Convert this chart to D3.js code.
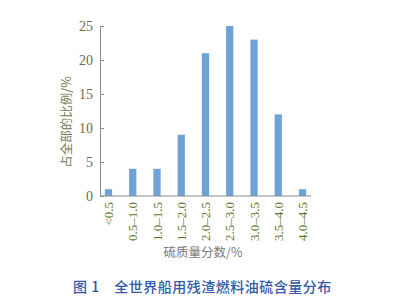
<!DOCTYPE html>
<html>
<head>
<meta charset="utf-8">
<script src="https://cdn.jsdelivr.net/npm/d3@7"></script>
<style>
  body { margin: 0; background: #fff; }
  svg { display: block; }
</style>
</head>
<body>
<div id="chart"></div>
<script>
// 硫含量区间与所占比例
const categories = ["<0.5", "0.5–1.0", "1.0–1.5", "1.5–2.0", "2.0–2.5", "2.5–3.0", "3.0–3.5", "3.5–4.0", "4.0–4.5"];
const values = [1, 4, 4, 9, 21, 25, 23, 12, 1];
const yTicks = [0, 5, 10, 15, 20, 25];

const svg = d3.select("#chart").append("svg")
    .attr("width", 400)
    .attr("height", 302);

const x = d3.scaleBand()
    .domain(categories)
    .range([100, 311])
    .paddingInner(0.7)
    .paddingOuter(0.2);

const y = d3.scaleLinear()
    .domain([0, 25])
    .range([196, 26]);

// 柱子
svg.selectAll("rect.bar")
    .data(values)
    .enter().append("rect")
    .attr("class", "bar")
    .attr("x", (d, i) => x(categories[i]))
    .attr("y", d => y(d))
    .attr("width", x.bandwidth())
    .attr("height", d => y(0) - y(d))
    .attr("fill", "#6fa3d8");

// y 轴
const yAxis = svg.append("g")
    .attr("transform", "translate(100,0)")
    .call(d3.axisLeft(y).tickValues(yTicks).tickSizeInner(-4).tickSizeOuter(0).tickPadding(7));
yAxis.select(".domain").attr("stroke", "#8a8a8a");
yAxis.selectAll(".tick line").attr("stroke", "#9a8a70");
yAxis.selectAll(".tick text")
    .attr("font-family", "Liberation Serif")
    .attr("font-size", 14)
    .attr("fill", "#6b6b4a");

// x 轴
const xAxis = svg.append("g")
    .attr("transform", "translate(0,196)")
    .call(d3.axisBottom(x).tickSize(0).tickPadding(6));
xAxis.select(".domain").attr("stroke", "#8a8a8a").attr("d", "M100,0H311");
xAxis.selectAll(".tick text")
    .attr("font-family", "Liberation Serif")
    .attr("font-size", 13)
    .attr("fill", "#5e7a2e")
    .attr("text-anchor", "end")
    .attr("dy", "0.35em")
    .attr("transform", "translate(0,6) rotate(-90)")
    .attr("x", 0)
    .attr("y", 0);

// 轴标题
svg.append("text")
    .attr("transform", "translate(67,122) rotate(-90)")
    .attr("text-anchor", "middle")
    .attr("dy", "0.35em")
    .attr("font-family", "Noto Sans CJK SC")
    .attr("font-size", 12.5)
    .attr("fill", "#7a7a55")
    .text("占全部的比例/%");

svg.append("text")
    .attr("x", 203)
    .attr("y", 253)
    .attr("text-anchor", "middle")
    .attr("dy", "0.35em")
    .attr("font-family", "Noto Sans CJK SC")
    .attr("font-size", 12.5)
    .attr("fill", "#7a7a7a")
    .text("硫质量分数/%");

// 图题
svg.append("text")
    .attr("x", 73)
    .attr("y", 287)
    .attr("dy", "0.35em")
    .attr("font-family", "Noto Sans CJK SC")
    .attr("font-size", 14)
    .attr("font-weight", 500)
    .attr("letter-spacing", 0.5)
    .attr("fill", "#3358aa")
    .attr("xml:space", "preserve")
    .text("图 1　全世界船用残渣燃料油硫含量分布");
</script>
</body>
</html>
